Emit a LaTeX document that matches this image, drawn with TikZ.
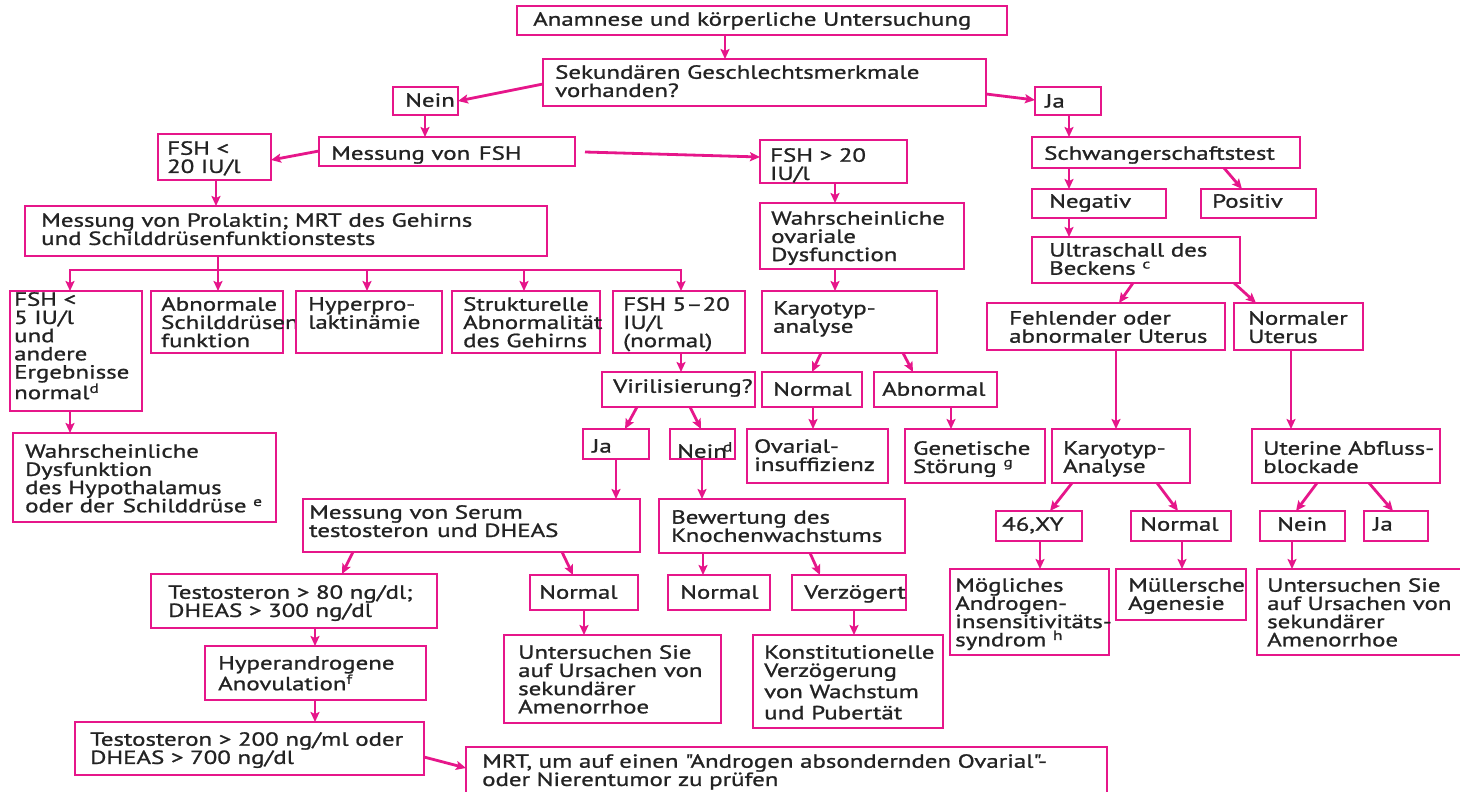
\documentclass[tikz,border=0pt]{standalone}
\usepackage{fontspec}
\setmainfont[FakeStretch=1.31,FakeBold=1.1,Ligatures=TeXOff]{PT Sans}
\usetikzlibrary{arrows.meta}
\definecolor{pk}{RGB}{230,22,138}
\definecolor{tx}{RGB}{35,35,35}
\tikzset{
  box/.style={draw=pk, line width=2.8pt, rectangle, inner sep=0pt, outer sep=0pt},
  txt/.style={inner sep=0pt, align=left, font=\fontsize{19}{18.2}\selectfont, text=tx},
  ln/.style={draw=pk, line width=2.8pt},
  arr/.style={ln, -{Stealth[length=10pt,width=9pt,inset=2pt]}},
}
% name, x1, y1, x2, y2, dx, dy, text
\newcommand\bx[8]{%
  \node[box, minimum width={(#4)-(#2)}, minimum height={(#5)-(#3)}, anchor=north west] (#1) at (#2,#3) {};
  \node[txt, anchor=north west] (#1t) at ([xshift=#6pt, yshift=-#7pt]#1.north west) {#8};}
\begin{document}
\begin{tikzpicture}[x=1pt,y=-1pt]
\fill[white] (0,0) rectangle (1460,792);
\useasboundingbox (0,0) rectangle (1460,792);

\bx{anam}{517}{6}{1007}{35}{16}{6}{Anamnese und körperliche Untersuchung}
\bx{sek}{543}{59}{986}{106}{12}{6}{Sekundären Geschlechtsmerkmale\\vorhanden?}
\bx{nein1}{393}{87}{458}{115}{12}{6}{Nein}
\bx{ja1}{1035}{87}{1101}{115}{10}{7}{Ja}
\bx{fshm}{319}{137}{575}{166}{12}{9}{Messung von\hspace{0.45em}FSH}
\bx{fsh20l}{158}{134}{271}{180}{9}{7}{FSH <\\20 IU/l}
\bx{fsh20g}{760}{140}{907}{183}{10}{8}{FSH > 20\\IU/l}
\bx{schw}{1032}{137}{1300}{168}{12}{9}{Schwangerschaftstest}
\bx{neg}{1032}{189}{1166}{218}{17}{5}{Negativ}
\bx{pos}{1201}{189}{1316}{218}{11}{5}{Positiv}
\bx{prol}{25}{206}{547}{256}{16}{7}{Messung von Prolaktin; MRT des Gehirns\\und Schilddrüsenfunktionstests}
\bx{ovdys}{760}{203}{964}{269}{11}{8}{Wahrscheinliche\\ovariale\\Dysfunction}
\bx{ultra}{1032}{237}{1240}{283}{17}{6}{Ultraschall des\\Beckens \textsuperscript{c}}
\bx{fsh5}{10}{291}{142}{411}{4}{1}{FSH <\\5 IU/l\\und\\andere\\Ergebnisse\\normal\textsuperscript{d}}
\bx{schild}{151}{291}{283}{353}{10}{6}{Abnormale\\Schilddrüsen\\funktion}
\bx{hyper}{296}{291}{442}{353}{12}{6}{Hyperpro-\\laktinämie}
\bx{struk}{452}{291}{600}{353}{11}{6}{Strukturelle\\Abnormalität\\des Gehirns}
\bx{fshn}{613}{291}{745}{353}{10}{6}{FSH 5–20\\IU/l\\(normal)}
\bx{karyo1}{762}{291}{937}{353}{11}{10}{Karyotyp-\\analyse}
\bx{fehl}{987}{303}{1225}{350}{22}{8}{Fehlender oder\\abnormaler Uterus}
\bx{normu}{1234}{303}{1363}{350}{14}{8}{Normaler\\Uterus}
\bx{viril}{602}{372}{755}{407}{11}{7}{Virilisierung?}
\bx{knorm}{762}{372}{862}{407}{11}{10}{Normal}
\bx{kabn}{874}{372}{997}{407}{8}{10}{Abnormal}
\bx{hypo}{13}{433}{276}{522}{12}{11}{Wahrscheinliche\\Dysfunktion\\des Hypothalamus\\oder der\hspace{0.45em}Schilddrüse \textsuperscript{e}}
\bx{ja2}{583}{429}{649}{459}{9}{10}{Ja}
\bx{nein2}{670}{429}{735}{459}{7}{13}{Nein\hspace{-4pt}\textsuperscript{d}}
\bx{ovins}{747}{429}{888}{483}{7}{10}{Ovarial-\\insuffizienz}
\bx{genet}{905}{429}{1045}{483}{8}{12}{Genetische\\Störung \textsuperscript{g}}
\bx{karyo2}{1052}{429}{1190}{483}{11}{12}{Karyotyp-\\Analyse}
\bx{uter}{1252}{429}{1440}{483}{11}{12}{Uterine Abfluss-\\blockade}
\bx{serum}{303}{499}{640}{552}{6}{6}{Messung von Serum\\testosteron\hspace{0.45em}und DHEAS}
\bx{bewer}{659}{499}{905}{553}{12}{11}{Bewertung des\\Knochenwachstums}
\bx{xy}{996}{511}{1082}{541}{6}{6}{46,XY}
\bx{mnorm}{1131}{511}{1231}{541}{9}{6}{Normal}
\bx{nein3}{1260}{511}{1345}{541}{17}{6}{Nein}
\bx{ja3}{1364}{511}{1428}{541}{9}{6}{Ja}
\bx{t80}{151}{574}{437}{628}{17}{11}{Testosteron > 80 ng/dl;\\DHEAS > 300 ng/dl}
\bx{snorm}{530}{575}{638}{610}{9}{10}{Normal}
\bx{bnorm}{668}{575}{770}{610}{12}{10}{Normal}
\bx{verz}{792}{575}{906}{610}{12}{10}{Verzögert}
\bx{andro}{950}{569}{1109}{655}{5}{9}{Mögliches\\Androgen-\\insensitivitäts-\\syndrom \textsuperscript{h}}
\bx{muell}{1116}{569}{1246}{620}{12}{9}{Müllersche\\Agenesie}
\bx{unt2}{1257}{569}{1470}{655}{10}{9}{Untersuchen Sie\\auf Ursachen von\\sekundärer\\Amenorrhoe}
\bx{hyand}{205}{646}{426}{700}{13}{10}{Hyperandrogene\\Anovulation\textsuperscript{f}}
\bx{unt1}{504}{635}{721}{723}{14}{10}{Untersuchen Sie\\auf Ursachen von\\sekundärer\\Amenorrhoe}
\bx{konst}{753}{635}{943}{728}{11}{10}{Konstitutionelle\\Verzögerung\\[3pt]von Wachstum\\[3pt]und Pubertät}
\bx{t200}{75}{722}{424}{775}{15}{10}{Testosteron > 200 ng/ml oder\\DHEAS > 700 ng/dl}
\bx{mrt}{466}{747}{1107}{810}{16}{7}{MRT, um auf einen "Androgen absondernden Ovarial"-\\oder Nierentumor zu prüfen}

% connectors
\draw[arr] (anam.south -| 725,0) -- (sek.north -| 725,0);
\draw[arr] (sek.west |- 0,84) -- (nein1.east |- 0,101);
\draw[arr] (sek.east |- 0,94) -- (ja1.west |- 0,100);
\draw[arr] (nein1.south -| 425,0) -- (fshm.north -| 425,0);
\draw[arr] (fshm.west |- 0,151) -- (fsh20l.east |- 0,160);
\coordinate (fshmout) at (585,152);
\draw[arr] (fshmout) -- (fsh20g.west |- 0,157);
\draw[arr] (ja1.south -| 1069,0) -- (schw.north -| 1069,0);
\draw[arr] (fsh20l.south -| 216,0) -- (prol.north -| 216,0);
\draw[arr] (fsh20g.south -| 835,0) -- (ovdys.north -| 835,0);
\draw[arr] (schw.south -| 1069,0) -- (neg.north -| 1069,0);
\draw[arr] (schw.south -| 1224,0) -- (pos.north -| 1242,0);
\draw[arr] (neg.south -| 1069,0) -- (ultra.north -| 1069,0);
% branch from Prolaktin
\coordinate (bj) at (218,270);
\coordinate (bl) at (70,270);
\coordinate (b3) at (367,270);
\coordinate (b4) at (524,270);
\coordinate (br) at (681,270);
\draw[ln] (prol.south -| bj) -- (bj);
\draw[ln, line cap=rect] (bl) -- (br);
\draw[arr] (bl) -- (fsh5.north -| bl);
\draw[arr] (bj) -- (schild.north -| bj);
\draw[arr] (b3) -- (hyper.north -| b3);
\draw[arr] (b4) -- (struk.north -| b4);
\draw[arr] (br) -- (fshn.north -| br);
\draw[arr] (ovdys.south -| 835,0) -- (karyo1.north -| 835,0);
\draw[arr] (ultra.south -| 1133,0) -- (fehl.north -| 1119,0);
\draw[arr] (ultra.south -| 1234,0) -- (normu.north -| 1256,0);
\draw[arr] (fsh5.south -| 70,0) -- (hypo.north -| 70,0);
\draw[arr] (fshn.south -| 681,0) -- (viril.north -| 681,0);
\draw[arr] (karyo1.south -| 821,0) -- (knorm.north -| 812,0);
\draw[arr] (karyo1.south -| 903,0) -- (kabn.north -| 913,0);
\draw[arr] (fehl.south -| 1116,0) -- (karyo2.north -| 1116,0);
\draw[arr] (normu.south -| 1291,0) -- (uter.north -| 1291,0);
\draw[arr] (viril.south -| 637,0) -- (ja2.north -| 625,0);
\draw[arr] (viril.south -| 690,0) -- (nein2.north -| 701,0);
\draw[arr] (knorm.south -| 813,0) -- (ovins.north -| 813,0);
\draw[arr] (kabn.south -| 951,0) -- (genet.north -| 951,0);
\draw[arr] (ja2.south -| 616,0) -- (serum.north -| 616,0);
\draw[arr] (nein2.south -| 702,0) -- (bewer.north -| 702,0);
\draw[arr] (karyo2.south -| 1072,0) -- (xy.north -| 1050,0);
\draw[arr] (karyo2.south -| 1157,0) -- (mnorm.north -| 1178,0);
\draw[arr] (uter.south -| 1317,0) -- (nein3.north -| 1296,0);
\draw[arr] (uter.south -| 1369,0) -- (ja3.north -| 1393,0);
\draw[arr] (serum.south -| 353,0) -- (t80.north -| 342,0);
\draw[arr] (serum.south -| 562,0) -- (snorm.north -| 573,0);
\draw[arr] (bewer.south -| 703,0) -- (bnorm.north -| 703,0);
\draw[arr] (bewer.south -| 810,0) -- (verz.north -| 820,0);
\draw[arr] (xy.south -| 1040,0) -- (andro.north -| 1040,0);
\draw[arr] (mnorm.south -| 1182,0) -- (muell.north -| 1182,0);
\draw[arr] (nein3.south -| 1292,0) -- (unt2.north -| 1292,0);
\draw[arr] (t80.south -| 315,0) -- (hyand.north -| 315,0);
\draw[arr] (snorm.south -| 584,0) -- (unt1.north -| 584,0);
\draw[arr] (verz.south -| 854,0) -- (konst.north -| 854,0);
\draw[arr] (hyand.south -| 315,0) -- (t200.north -| 315,0);
\draw[arr] (t200.east |- 0,757) -- (mrt.west |- 0,768);
\end{tikzpicture}
\end{document}
